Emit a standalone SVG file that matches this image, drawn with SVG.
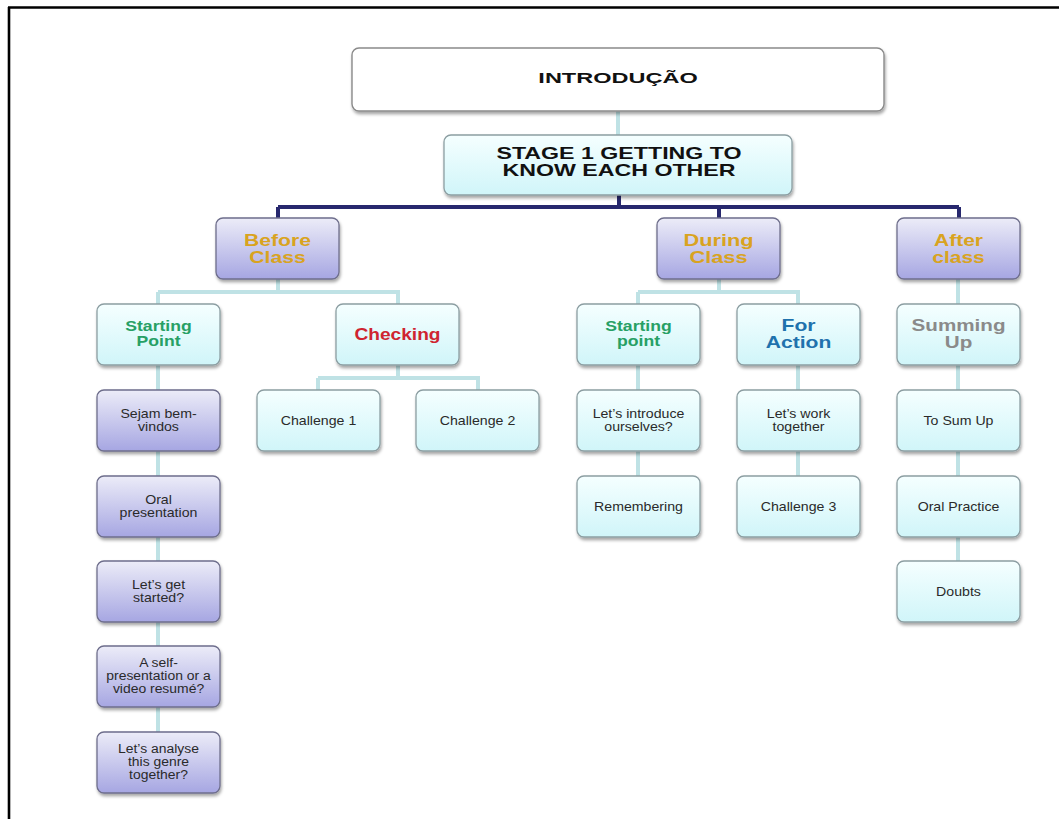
<svg xmlns="http://www.w3.org/2000/svg" width="1059" height="819" viewBox="0 0 1059 819">
<defs>
<linearGradient id="gc" x1="0" y1="0" x2="0" y2="1"><stop offset="0" stop-color="#f5ffff"/><stop offset="1" stop-color="#d0f5f9"/></linearGradient>
<linearGradient id="gp" x1="0" y1="0" x2="0" y2="1"><stop offset="0" stop-color="#ececf8"/><stop offset="1" stop-color="#a6a6e2"/></linearGradient>
<filter id="sh" x="-10%" y="-10%" width="125%" height="135%"><feDropShadow dx="1" dy="2.5" stdDeviation="1.8" flood-color="#000" flood-opacity="0.35"/></filter>
</defs>
<style>
.w{fill:#fff;stroke:#8a8a8a;stroke-width:1.4;filter:url(#sh)}
.c{fill:url(#gc);stroke:#8c9ea2;stroke-width:1.3;filter:url(#sh)}
.p{fill:url(#gp);stroke:#6e6e8c;stroke-width:1.3;filter:url(#sh)}
.lc{stroke:#bfe2e5;stroke-width:4;fill:none}
.dk{stroke:#27286e;stroke-width:4;fill:none}
text{font-family:"Liberation Sans",Arial,sans-serif;text-anchor:middle}
.h{font-weight:bold;fill:#111}
.g{font-weight:bold;font-size:16.5px;fill:#d9a320}
.gr{font-weight:bold;font-size:14px;fill:#27a065}
.rd{font-weight:bold;font-size:16.5px;fill:#cf2430}
.bl{font-weight:bold;font-size:16px;fill:#1f72ad}
.gy{font-weight:bold;font-size:16px;fill:#8a8a8a}
.t{font-size:12px;fill:#2a2a2a}
</style>
<rect width="1059" height="819" fill="#fff"/>
<path d="M8,7.5 H1059 M9,7 V819" stroke="#000" stroke-width="2.6" fill="none"/>

<g id="connectors">
<path class="lc" d="M618,111 V135"/>
<path class="dk" d="M619,195 V207 M278,207 H959 M278,207 V218 M719,207 V218 M959,207 V218"/>
<path class="lc" d="M278,279 V292 M158,292 H400 M158,292 V304 M398,292 V304"/>
<path class="lc" d="M719,279 V292 M638,292 H800 M638,292 V304 M798,292 V304"/>
<path class="lc" d="M958,279 V304"/>
<path class="lc" d="M398,365 V378 M318,378 H480 M318,378 V390 M478,378 V390"/>
<path class="lc" d="M158,365 V390 M158,451 V476 M158,537 V561 M158,622 V646 M158,707 V732"/>
<path class="lc" d="M638,365 V390 M638,451 V476 M798,365 V390 M798,451 V476"/>
<path class="lc" d="M958,365 V390 M958,451 V476 M958,537 V561"/>
</g>

<g id="intro"><rect class="w" x="352" y="48" width="532" height="63" rx="7"/>
<g transform="translate(618,0) scale(1.68,1)"><text class="h" x="0" y="83" font-size="14">INTRODUÇÃO</text></g></g>

<g id="stage"><rect class="c" x="444" y="135" width="348" height="60" rx="7"/>
<g transform="translate(619,0) scale(1.45,1)"><text class="h" x="0" y="159" font-size="16">STAGE 1 GETTING TO</text><text class="h" x="0" y="176.5" font-size="16">KNOW EACH OTHER</text></g></g>

<g id="before"><rect class="p" x="216" y="218" width="123" height="61" rx="7"/>
<g transform="translate(277.5,0) scale(1.28,1)"><text class="g" x="0" y="246.5">Before</text><text class="g" x="0" y="263">Class</text></g></g>
<g id="during"><rect class="p" x="657" y="218" width="123" height="61" rx="7"/>
<g transform="translate(718.5,0) scale(1.32,1)"><text class="g" x="0" y="246.5">During</text><text class="g" x="0" y="263">Class</text></g></g>
<g id="after"><rect class="p" x="897" y="218" width="123" height="61" rx="7"/>
<g transform="translate(958.5,0) scale(1.27,1)"><text class="g" x="0" y="246.5">After</text><text class="g" x="0" y="263">class</text></g></g>

<g id="startingPoint1"><rect class="c" x="97" y="304" width="123" height="61" rx="7"/>
<g transform="translate(158.5,0) scale(1.26,1)"><text class="gr" x="0" y="331">Starting</text><text class="gr" x="0" y="346">Point</text></g></g>
<g id="checking"><rect class="c" x="336" y="304" width="123" height="61" rx="7"/>
<g transform="translate(397.5,0) scale(1.16,1)"><text class="rd" x="0" y="340">Checking</text></g></g>
<g id="startingPoint2"><rect class="c" x="577" y="304" width="123" height="61" rx="7"/>
<g transform="translate(638.5,0) scale(1.26,1)"><text class="gr" x="0" y="331">Starting</text><text class="gr" x="0" y="346">point</text></g></g>
<g id="forAction"><rect class="c" x="737" y="304" width="123" height="61" rx="7"/>
<g transform="translate(798.5,0) scale(1.32,1)"><text class="bl" x="0" y="331.5">For</text><text class="bl" x="0" y="348">Action</text></g></g>
<g id="summingUp"><rect class="c" x="897" y="304" width="123" height="61" rx="7"/>
<g transform="translate(958.5,0) scale(1.29,1)"><text class="gy" x="0" y="331.5">Summing</text><text class="gy" x="0" y="348">Up</text></g></g>

<g id="sejam"><rect class="p" x="97" y="390" width="123" height="61" rx="7"/>
<g transform="translate(158.5,0) scale(1.18,1)"><text class="t" x="0" y="418">Sejam bem-</text><text class="t" x="0" y="431">vindos</text></g></g>
<g id="challenge1"><rect class="c" x="257" y="390" width="123" height="61" rx="7"/>
<g transform="translate(318.5,0) scale(1.18,1)"><text class="t" x="0" y="425">Challenge 1</text></g></g>
<g id="challenge2"><rect class="c" x="416" y="390" width="123" height="61" rx="7"/>
<g transform="translate(477.5,0) scale(1.18,1)"><text class="t" x="0" y="425">Challenge 2</text></g></g>
<g id="letsIntroduce"><rect class="c" x="577" y="390" width="123" height="61" rx="7"/>
<g transform="translate(638.5,0) scale(1.18,1)"><text class="t" x="0" y="418">Let’s introduce</text><text class="t" x="0" y="431">ourselves?</text></g></g>
<g id="letsWork"><rect class="c" x="737" y="390" width="123" height="61" rx="7"/>
<g transform="translate(798.5,0) scale(1.18,1)"><text class="t" x="0" y="418">Let’s work</text><text class="t" x="0" y="431">together</text></g></g>
<g id="toSumUp"><rect class="c" x="897" y="390" width="123" height="61" rx="7"/>
<g transform="translate(958.5,0) scale(1.18,1)"><text class="t" x="0" y="425">To Sum Up</text></g></g>

<g id="oralPresentation"><rect class="p" x="97" y="476" width="123" height="61" rx="7"/>
<g transform="translate(158.5,0) scale(1.18,1)"><text class="t" x="0" y="504">Oral</text><text class="t" x="0" y="517">presentation</text></g></g>
<g id="remembering"><rect class="c" x="577" y="476" width="123" height="61" rx="7"/>
<g transform="translate(638.5,0) scale(1.18,1)"><text class="t" x="0" y="511">Remembering</text></g></g>
<g id="challenge3"><rect class="c" x="737" y="476" width="123" height="61" rx="7"/>
<g transform="translate(798.5,0) scale(1.18,1)"><text class="t" x="0" y="511">Challenge 3</text></g></g>
<g id="oralPractice"><rect class="c" x="897" y="476" width="123" height="61" rx="7"/>
<g transform="translate(958.5,0) scale(1.18,1)"><text class="t" x="0" y="511">Oral Practice</text></g></g>

<g id="letsGetStarted"><rect class="p" x="97" y="561" width="123" height="61" rx="7"/>
<g transform="translate(158.5,0) scale(1.18,1)"><text class="t" x="0" y="589">Let’s get</text><text class="t" x="0" y="602">started?</text></g></g>
<g id="doubts"><rect class="c" x="897" y="561" width="123" height="61" rx="7"/>
<g transform="translate(958.5,0) scale(1.18,1)"><text class="t" x="0" y="596">Doubts</text></g></g>

<g id="selfPresentation"><rect class="p" x="97" y="646" width="123" height="61" rx="7"/>
<g transform="translate(158.5,0) scale(1.16,1)"><text class="t" x="0" y="667">A self-</text><text class="t" x="0" y="680">presentation or a</text><text class="t" x="0" y="693">video resumé?</text></g></g>
<g id="letsAnalyse"><rect class="p" x="97" y="732" width="123" height="61" rx="7"/>
<g transform="translate(158.5,0) scale(1.16,1)"><text class="t" x="0" y="753">Let’s analyse</text><text class="t" x="0" y="766">this genre</text><text class="t" x="0" y="779">together?</text></g></g>
</svg>
